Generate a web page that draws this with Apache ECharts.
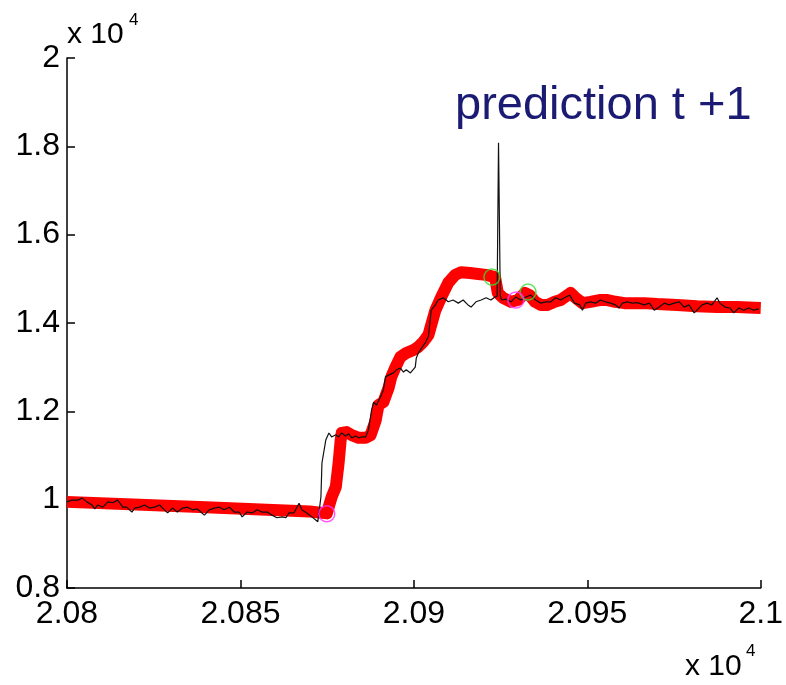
<!DOCTYPE html>
<html>
<head>
<meta charset="utf-8">
<script src="https://cdn.jsdelivr.net/npm/echarts@6/dist/echarts.min.js"></script>
<style>
  html, body { margin: 0; padding: 0; background: #fff; }
  #chart-container { width: 786px; height: 685px; }
</style>
</head>
<body>
<div id="chart-container"></div>
<script>
// measured signal (thin black line), [x, y]
var actual = [
  [20800.0, 9950], [20801.4, 9990], [20803.2, 9990], [20804.3, 10040], [20805.7, 9950],
  [20807.2, 9880], [20808.0, 9790], [20808.9, 9880], [20810.3, 9830], [20811.8, 9950],
  [20813.2, 9930], [20814.6, 9990], [20816.1, 9830], [20817.2, 9830], [20818.7, 9720],
  [20819.5, 9810], [20820.9, 9830], [20822.4, 9880], [20823.8, 9810], [20825.2, 9830],
  [20826.7, 9880], [20828.1, 9770], [20829.0, 9700], [20830.4, 9810], [20831.8, 9720],
  [20833.3, 9810], [20834.7, 9830], [20836.2, 9770], [20837.6, 9790], [20839.6, 9650],
  [20841.0, 9770], [20842.5, 9810], [20843.9, 9830], [20845.3, 9770], [20846.8, 9830],
  [20848.2, 9720], [20849.6, 9720], [20850.5, 9610], [20851.9, 9720], [20853.4, 9700],
  [20854.8, 9770], [20856.2, 9720], [20857.7, 9720], [20859.1, 9650], [20860.5, 9590],
  [20862.0, 9610], [20863.1, 9590], [20864.0, 9700], [20865.4, 9700], [20866.9, 9920],
  [20867.7, 9770], [20869.1, 9700], [20870.6, 9610], [20871.7, 9540], [20872.3, 9500],
  [20873.2, 10060], [20873.5, 10830], [20874.6, 11350], [20875.5, 11510], [20876.3, 11420],
  [20877.5, 11470], [20878.3, 11420], [20879.2, 11510], [20880.3, 11440], [20881.2, 11490],
  [20882.1, 11400], [20883.2, 11440], [20884.1, 11400], [20884.9, 11420], [20886.1, 11420],
  [20886.9, 11580], [20887.8, 12030], [20888.4, 12210], [20889.2, 12140], [20890.4, 12330],
  [20891.2, 12480], [20891.8, 12780], [20892.7, 12820], [20894.1, 12870], [20895.0, 12940],
  [20896.1, 12980], [20897.0, 12890], [20897.8, 12940], [20899.0, 12870], [20900.4, 13000],
  [20900.7, 13210], [20901.3, 13320], [20902.2, 13430], [20903.3, 13550], [20904.2, 13700],
  [20905.0, 14290], [20906.2, 14410], [20907.0, 14520], [20908.5, 14570], [20909.9, 14480],
  [20911.3, 14520], [20912.8, 14450], [20914.2, 14520], [20915.6, 14410], [20916.5, 14360],
  [20917.9, 14480], [20919.4, 14520], [20920.8, 14570], [20922.2, 14520], [20923.4, 14590],
  [20924.0, 14600], [20924.4, 18080], [20924.9, 14620], [20925.3, 14520], [20926.5, 14540],
  [20928.0, 14480], [20929.4, 14590], [20930.8, 14520], [20932.3, 14590], [20933.7, 14630],
  [20935.1, 14520], [20936.6, 14450], [20938.0, 14480], [20939.5, 14480], [20940.9, 14570],
  [20942.3, 14520], [20943.8, 14590], [20944.9, 14630], [20946.3, 14450], [20947.8, 14410],
  [20948.6, 14290], [20949.5, 14450], [20950.9, 14480], [20952.4, 14450], [20953.8, 14520],
  [20955.2, 14480], [20956.7, 14450], [20958.1, 14410], [20959.2, 14340], [20960.1, 14450],
  [20961.5, 14480], [20963.0, 14450], [20964.4, 14460], [20966.4, 14410], [20967.9, 14450],
  [20969.3, 14290], [20970.7, 14360], [20972.2, 14450], [20973.6, 14410], [20975.0, 14450],
  [20976.5, 14480], [20977.9, 14360], [20979.3, 14410], [20980.8, 14230], [20981.6, 14290],
  [20983.1, 14410], [20984.5, 14450], [20985.9, 14410], [20987.4, 14570], [20988.2, 14450],
  [20989.7, 14360], [20991.1, 14340], [20992.2, 14230], [20993.7, 14340], [20995.1, 14290],
  [20996.5, 14340], [20998.0, 14290], [20999.4, 14320]
];

// one-step-ahead prediction (thick red line)
var predicted = [
  [20800.0, 9950], [20840.0, 9830], [20870.0, 9730], [20874.9, 9690], [20876.3, 10060],
  [20877.5, 10290], [20878.3, 10830], [20878.9, 11350], [20879.2, 11510], [20880.6, 11530],
  [20882.1, 11460], [20884.1, 11400], [20886.1, 11400], [20887.5, 11460], [20889.0, 11800],
  [20889.8, 12140], [20891.2, 12210], [20892.7, 12530], [20893.5, 12780], [20894.7, 13000],
  [20896.1, 13230], [20897.8, 13320], [20899.9, 13390], [20901.3, 13460], [20902.7, 13570],
  [20904.2, 13730], [20906.2, 14290], [20907.9, 14590], [20909.9, 14910], [20911.9, 15090],
  [20913.6, 15150], [20916.2, 15130], [20918.5, 15110], [20920.8, 15090], [20923.4, 15040],
  [20924.2, 14680], [20925.7, 14570], [20928.0, 14480], [20930.0, 14520], [20932.0, 14680],
  [20933.4, 14630], [20934.9, 14480], [20936.6, 14410], [20938.6, 14410], [20940.6, 14480],
  [20942.3, 14520], [20944.3, 14630], [20945.2, 14680], [20946.6, 14570], [20948.6, 14450],
  [20950.9, 14480], [20953.5, 14520], [20955.8, 14520], [20958.1, 14480], [20960.7, 14450],
  [20963.6, 14450], [20966.4, 14450], [20970.2, 14430], [20975.9, 14410], [20981.6, 14380],
  [20987.4, 14360], [20993.1, 14360], [21000.0, 14340]
];

var greenMarks = [[20922.5, 15040], [20932.9, 14700]];
var magentaMarks = [[20874.9, 9680], [20929.4, 14520]];

var xMin = 20800, xMax = 21000, xStep = 50;
var yMin = 8000, yMax = 20000, yStep = 2000;

var font = "'Liberation Sans', Arial, sans-serif";

function tickLabel(v) {
  return String(parseFloat((v / 10000).toFixed(4)));
}

var dom = document.getElementById("chart-container");
var myChart = echarts.init(dom, null, { renderer: "canvas" });

var option = {
  animation: false,
  backgroundColor: "#fff",
  grid: { left: 67, right: 22, top: 58, bottom: 97 },
  xAxis: {
    type: "value",
    min: xMin,
    max: xMax,
    interval: xStep,
    axisLine: { lineStyle: { color: "#000", width: 1.5 } },
    axisTick: { inside: true, length: 8, lineStyle: { color: "#000", width: 1.5 } },
    axisLabel: {
      color: "#000",
      fontSize: 32,
      fontFamily: font,
      margin: 10,
      formatter: tickLabel,
      showMinLabel: true,
      showMaxLabel: true,
    },
    splitLine: { show: false },
  },
  yAxis: {
    type: "value",
    min: yMin,
    max: yMax,
    interval: yStep,
    axisLine: { show: true, lineStyle: { color: "#000", width: 1.5 } },
    axisTick: { show: true, inside: true, length: 8, lineStyle: { color: "#000", width: 1.5 } },
    axisLabel: {
      color: "#000",
      fontSize: 32,
      fontFamily: font,
      margin: 7,
      formatter: tickLabel,
    },
    splitLine: { show: false },
  },
  graphic: [
    {
      type: "text", left: 455, top: 83,
      style: { text: "prediction t +1", fill: "#1b1b74", font: "47px " + font },
    },
    {
      type: "text", x: 67, y: 35,
      style: { text: "x 10", fill: "#000", font: "30px " + font, textVerticalAlign: "middle" },
    },
    {
      type: "text", x: 129, y: 20,
      style: { text: "4", fill: "#000", font: "17px " + font, textVerticalAlign: "middle" },
    },
    {
      type: "text", x: 685, y: 667,
      style: { text: "x 10", fill: "#000", font: "30px " + font, textVerticalAlign: "middle" },
    },
    {
      type: "text", x: 746, y: 651,
      style: { text: "4", fill: "#000", font: "17px " + font, textVerticalAlign: "middle" },
    },
  ],
  series: [
    {
      name: "predicted",
      type: "line",
      data: predicted,
      showSymbol: false,
      lineStyle: { color: "#ff0000", width: 12, cap: "butt", join: "round" },
      z: 2,
    },
    {
      name: "actual",
      type: "line",
      data: actual,
      showSymbol: false,
      lineStyle: { color: "#111", width: 1.2 },
      z: 3,
    },
    {
      name: "green",
      type: "scatter",
      data: greenMarks,
      symbolSize: 16,
      itemStyle: { color: "transparent", borderColor: "#33dd33", borderWidth: 1.5 },
      z: 4,
    },
    {
      name: "magenta",
      type: "scatter",
      data: magentaMarks,
      symbolSize: 16,
      itemStyle: { color: "transparent", borderColor: "#ff33ff", borderWidth: 1.5 },
      z: 4,
    },
  ],
};

if (option && typeof option === "object") {
  myChart.setOption(option);
}
window.addEventListener("resize", myChart.resize);
</script>
</body>
</html>
